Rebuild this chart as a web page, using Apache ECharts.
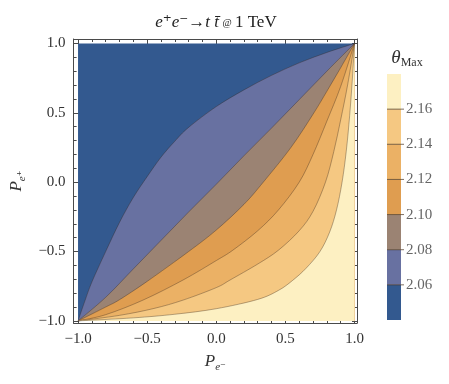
<!DOCTYPE html>
<html>
<head>
<meta charset="utf-8">
<script src="https://cdn.jsdelivr.net/npm/echarts@6/dist/echarts.min.js"></script>
<style>
  html, body { margin: 0; padding: 0; background: #fff; }
  #chart { width: 449px; height: 384px; }
</style>
</head>
<body>
<div id="chart"></div>
<script>
// contour levels of theta_Max and the fill of each band (lowest band first)
const levels = [2.06, 2.08, 2.10, 2.12, 2.14, 2.16]
const bandColors = ['#33598f', '#6871a1', '#9b8373', '#df9d50', '#ebb165', '#f5c882', '#fdf0c2']
const colorbarRange = [2.04, 2.18]
const domain = [-1, 1]

// contour lines, [P_e-, P_e+] from (-1,-1) to (1,1)
const c206 = [[-1, -1], [-0.95, -0.855], [-0.9, -0.72], [-0.8, -0.5], [-0.7, -0.29], [-0.6, -0.11], [-0.5, 0.04],
  [-0.4, 0.18], [-0.3, 0.295], [-0.2, 0.395], [0, 0.545], [0.2, 0.665], [0.4, 0.77], [0.6, 0.86], [0.8, 0.935], [1, 1]]
const c208 = [[-1, -1], [-0.8, -0.83], [-0.6, -0.625], [-0.4, -0.42], [-0.2, -0.215], [0, -0.015],
  [0.2, 0.19], [0.4, 0.39], [0.6, 0.595], [0.8, 0.8], [1, 1]]
const c210 = [[-1, -1], [-0.8, -0.9], [-0.7, -0.847], [-0.5, -0.715], [-0.2, -0.5], [0, -0.345], [0.2, -0.16],
  [0.34, 0], [0.54, 0.25], [0.7, 0.49], [0.8, 0.655], [0.9, 0.825], [1, 1]]
const c212 = [[-1, -1], [-0.8, -0.955], [-0.53, -0.85], [-0.24, -0.705], [0, -0.565], [0.12, -0.49], [0.3, -0.35],
  [0.45, -0.2], [0.6, 0], [0.7, 0.2], [0.8, 0.44], [0.9, 0.69], [1, 1]]
const c214 = [[-1, -1], [-0.7, -0.96], [-0.45, -0.91], [-0.24, -0.85], [0, -0.76], [0.1, -0.705], [0.3, -0.59],
  [0.45, -0.49], [0.6, -0.35], [0.7, -0.21], [0.79, 0], [0.85, 0.22], [0.9, 0.45], [0.95, 0.7], [1, 1]]
const c216 = [[-1, -1], [-0.6, -0.978], [-0.3, -0.952], [0, -0.912], [0.3, -0.845], [0.45, -0.78], [0.55, -0.71],
  [0.65, -0.62], [0.75, -0.5], [0.82, -0.36], [0.87, -0.2], [0.91, 0], [0.94, 0.22], [0.965, 0.48], [0.985, 0.75], [1, 1]]
const contours = [c206, c208, c210, c212, c214, c216]

const serif = '"Liberation Serif", "DejaVu Serif", serif'
const frameColor = '#4a4a4a'

const tickLabel = (v) => {
  const r = Math.round(v * 2) / 2
  return Math.abs(v - r) < 1e-6 ? r.toFixed(1).replace('-', '\u2212') : ''
}

// smooth svg path through pixel points (catmull-rom as cubic beziers)
const smoothPath = (pts) => {
  let d = `M${pts[0][0]},${pts[0][1]}`
  for (let i = 0; i < pts.length - 1; i++) {
    const p0 = pts[Math.max(i - 1, 0)]
    const p1 = pts[i]
    const p2 = pts[i + 1]
    const p3 = pts[Math.min(i + 2, pts.length - 1)]
    const c1 = [p1[0] + (p2[0] - p0[0]) / 6, p1[1] + (p2[1] - p0[1]) / 6]
    const c2 = [p2[0] - (p3[0] - p1[0]) / 6, p2[1] - (p3[1] - p1[1]) / 6]
    d += `C${c1[0]},${c1[1]} ${c2[0]},${c2[1]} ${p2[0]},${p2[1]}`
  }
  return d
}

const frameAxis = (position, extra) => Object.assign({
  type: 'value',
  gridIndex: 0,
  position,
  splitNumber: 4,
  axisLine: { show: true, onZero: false, lineStyle: { color: frameColor, width: 1 } },
  axisTick: { show: true, inside: true, length: 5, lineStyle: { color: frameColor } },
  minorTick: { show: true, splitNumber: 5, length: 3, lineStyle: { color: frameColor } },
  splitLine: { show: false },
  axisLabel: { show: false }
}, extra)

const labelStyle = { show: true, formatter: tickLabel, fontFamily: serif, fontSize: 15, color: '#333' }
const nameRich = {
  p: { fontFamily: serif, fontStyle: 'italic', fontSize: 17, color: '#333', lineHeight: 22 },
  s: { fontFamily: serif, fontStyle: 'italic', fontSize: 11, color: '#333', verticalAlign: 'bottom', lineHeight: 12 }
}

const chart = echarts.init(document.getElementById('chart'))

const option = {
  animation: false,
  backgroundColor: '#fff',
  grid: [
    { left: 72, top: 39, width: 285, height: 284 },
    { left: 387, top: 74, width: 14, height: 246 }
  ],
  xAxis: [
    frameAxis('bottom', {
      min: -1.032, max: 1.018,
      axisLabel: Object.assign({ margin: 9 }, labelStyle),
      name: '{p|P}{s|e\u207B}', nameLocation: 'middle', nameGap: 28,
      nameTextStyle: { rich: nameRich }
    }),
    frameAxis('top', { min: -1.032, max: 1.018 }),
    { type: 'value', gridIndex: 1, min: 0, max: 1, show: false }
  ],
  yAxis: [
    frameAxis('left', {
      min: -1.015, max: 1.032,
      axisLabel: Object.assign({ margin: 8 }, labelStyle),
      name: '{p|P}{s|e\u207A}', nameLocation: 'middle', nameGap: 42, nameRotate: 90,
      nameTextStyle: { rich: nameRich }
    }),
    frameAxis('right', { min: -1.015, max: 1.032 }),
    {
      type: 'value', gridIndex: 1, position: 'right',
      min: colorbarRange[0], max: colorbarRange[1], interval: 0.02,
      axisLine: { show: false }, axisTick: { show: false }, splitLine: { show: false },
      axisLabel: {
        margin: 5, fontFamily: serif, fontSize: 15, color: '#666',
        formatter: (v) => (v > levels[0] - 1e-6 && v < levels[levels.length - 1] + 1e-6) ? v.toFixed(2) : ''
      }
    }
  ],
  graphic: [
    {
      type: 'text', x: 216, y: 23,
      style: {
        text: '{i|e}{n|\u207A}{i|e}{n|\u207B\u2192}{i|t t\u0304} {a|@} {n|1 TeV}',
        align: 'center', verticalAlign: 'middle',
        rich: {
          i: { fontFamily: serif, fontStyle: 'italic', fontSize: 17, fill: '#222' },
          n: { fontFamily: serif, fontSize: 17, fill: '#222' },
          a: { fontFamily: serif, fontSize: 10, fill: '#222' }
        }
      }
    },
    {
      type: 'text', x: 407, y: 58,
      style: {
        text: '{t|\u03B8}{s|Max}',
        align: 'center', verticalAlign: 'middle',
        rich: {
          t: { fontFamily: serif, fontStyle: 'italic', fontSize: 19, fill: '#333', lineHeight: 22 },
          s: { fontFamily: serif, fontSize: 12, fill: '#333', verticalAlign: 'bottom', lineHeight: 12 }
        }
      }
    }
  ],
  series: [
    {
      // contour bands: each band fills everything below its lower contour
      type: 'custom',
      xAxisIndex: 0,
      yAxisIndex: 0,
      clip: false,
      silent: true,
      data: bandColors.map((_, i) => [i, 0]),
      renderItem: (params, api) => {
        const k = params.dataIndex
        const lo = domain[0], hi = domain[1]
        if (k === 0) {
          const sq = [[lo, lo], [lo, hi], [hi, hi], [hi, lo]].map(p => api.coord(p))
          return { type: 'polygon', shape: { points: sq }, style: { fill: bandColors[0] } }
        }
        const line = contours[k - 1].map(p => api.coord(p))
        const corner = api.coord([hi, lo])
        const curve = smoothPath(line)
        return {
          type: 'group',
          children: [
            {
              type: 'path',
              shape: { pathData: `${curve}L${corner[0]},${corner[1]}Z` },
              style: { fill: bandColors[k] }
            },
            {
              type: 'path',
              shape: { pathData: curve },
              style: { stroke: 'rgba(50,35,25,0.5)', lineWidth: 0.7, fill: null }
            }
          ]
        }
      }
    },
    {
      // colour bar
      type: 'custom',
      xAxisIndex: 2,
      yAxisIndex: 2,
      silent: true,
      data: bandColors.map((_, i) => [i, 0]),
      renderItem: (params, api) => {
        const i = params.dataIndex
        const bottom = i === 0 ? colorbarRange[0] : levels[i - 1]
        const top = i === levels.length ? colorbarRange[1] : levels[i]
        const p0 = api.coord([0, bottom])
        const p1 = api.coord([1, top])
        const children = [{
          type: 'rect',
          shape: { x: p0[0], y: p1[1], width: p1[0] - p0[0], height: p0[1] - p1[1] },
          style: { fill: bandColors[i] }
        }]
        if (i > 0) {
          children.push({
            type: 'line',
            shape: { x1: p0[0], y1: p0[1], x2: p1[0] + 3, y2: p0[1] },
            style: { stroke: 'rgba(70,50,30,0.7)', lineWidth: 1 }
          })
        }
        return { type: 'group', children }
      }
    }
  ]
}

chart.setOption(option)
window.addEventListener('resize', () => chart.resize())
</script>
</body>
</html>
